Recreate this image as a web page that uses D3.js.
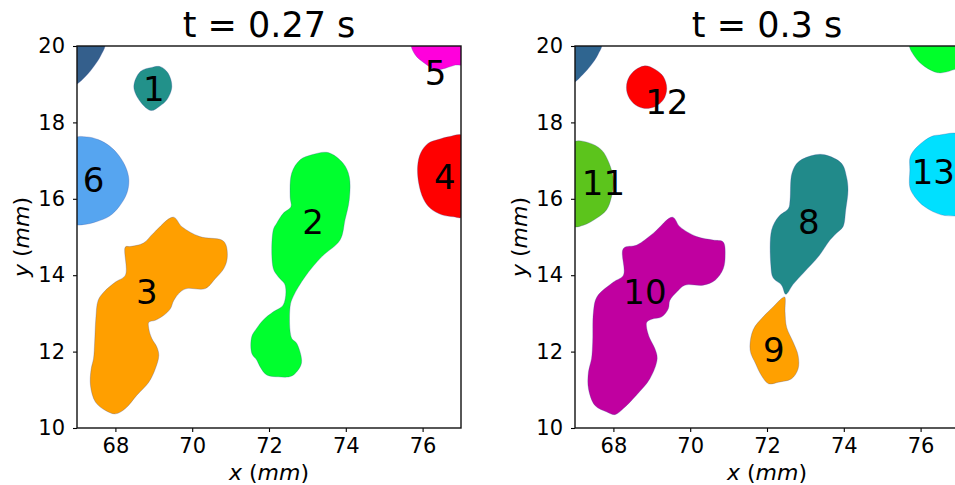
<!DOCTYPE html>
<html>
<head>
<meta charset="utf-8">
<script src="https://cdn.jsdelivr.net/npm/d3@7"></script>
<style>
  body { margin: 0; background: #fff; }
  text { font-family: "DejaVu Sans", sans-serif; fill: #000; }
</style>
</head>
<body>
<svg id="chart" width="955" height="485"></svg>
<script>
var xTicks = [68, 70, 72, 74, 76];
var yTicks = [10, 12, 14, 16, 18, 20];
var titles = ["t = 0.27 s", "t = 0.3 s"];

// region outlines, in mm
var cornerL = [[66.95,20.05],[67.72,20.05],[67.62,19.75],[67.45,19.48],[67.22,19.2],[66.95,19.0]];
var blob1 = [[68.95,19.44],[69.17,19.46],[69.37,19.29],[69.47,18.93],[69.34,18.59],[69.16,18.43],[68.93,18.31],[68.65,18.54],[68.48,18.93],[68.65,19.33]];
var blob2 = [[73.11,17.15],[73.54,17.21],[73.93,16.93],[74.09,16.58],[74.09,15.97],[73.98,15.45],[73.85,14.92],[73.37,14.48],[72.94,13.96],[72.63,13.44],[72.55,13.18],[72.59,12.35],[72.72,12.22],[72.85,11.78],[72.81,11.6],[72.59,11.36],[72.24,11.34],[71.94,11.39],[71.77,11.6],[71.68,11.78],[71.55,11.96],[71.55,12.39],[71.68,12.61],[71.85,12.83],[72.11,13.04],[72.37,13.22],[72.42,13.74],[72.24,13.96],[72.11,14.18],[72.11,15.18],[72.2,15.36],[72.37,15.62],[72.57,15.79],[72.55,16.05],[72.59,16.67],[72.81,17.02]];
var blob3 = [[69.51,15.52],[69.73,15.27],[70.2,15.01],[70.77,14.92],[70.88,14.79],[70.91,14.43],[70.82,14.17],[70.6,13.91],[70.34,13.65],[69.86,13.65],[69.69,13.56],[69.52,13.34],[69.43,13.12],[69.26,12.95],[69.04,12.82],[68.87,12.77],[68.87,12.6],[68.95,12.34],[69.08,12.12],[69.13,11.9],[69.04,11.55],[68.87,11.2],[68.56,10.86],[68.26,10.51],[68.0,10.37],[67.74,10.46],[67.48,10.68],[67.35,11.12],[67.37,11.55],[67.43,11.81],[67.46,12.25],[67.49,12.86],[67.55,13.34],[67.7,13.56],[68.0,13.82],[68.26,14.0],[68.26,14.74],[68.38,14.75],[68.73,14.84],[68.99,15.1]];
var blob4 = [[77.05,17.65],[76.7,17.63],[76.4,17.55],[76.14,17.45],[75.95,17.2],[75.87,16.85],[75.9,16.4],[76.02,16.0],[76.2,15.75],[76.5,15.58],[76.8,15.53],[77.05,15.53]];
var blob5 = [[75.72,20.05],[75.8,19.78],[76.05,19.55],[76.35,19.38],[76.6,19.42],[76.85,19.5],[77.05,19.52],[77.05,20.05]];
var blob6 = [[66.95,17.58],[67.25,17.62],[67.55,17.55],[67.85,17.38],[68.1,17.12],[68.28,16.8],[68.35,16.5],[68.3,16.15],[68.1,15.8],[67.85,15.55],[67.5,15.4],[67.2,15.33],[66.95,15.35]];

var cornerR = [[66.95,20.05],[67.69,20.05],[67.6,19.78],[67.42,19.5],[67.2,19.25],[66.95,19.05]];
var greenTR = [[75.72,20.05],[75.85,19.72],[76.11,19.46],[76.45,19.3],[76.71,19.33],[76.9,19.39],[77.05,19.4],[77.05,20.05]];
var blob8 = [[73.25,17.15],[73.51,17.15],[73.94,16.93],[74.07,16.58],[74.11,16.23],[74.05,15.71],[73.98,15.27],[73.81,15.1],[73.64,14.92],[73.35,14.5],[72.96,14.07],[72.68,13.76],[72.49,13.5],[72.38,13.74],[72.16,13.93],[72.1,14.26],[72.12,15.18],[72.3,15.53],[72.56,15.75],[72.6,15.97],[72.65,16.67],[72.82,16.97]];
var blob9 = [[72.46,13.43],[72.47,13.04],[72.51,12.64],[72.68,12.25],[72.81,11.9],[72.81,11.55],[72.64,11.29],[72.3,11.2],[72.04,11.16],[71.84,11.4],[71.71,11.67],[71.56,12.04],[71.64,12.57],[71.9,12.91],[72.17,13.18],[72.38,13.39]];
var blob10 = [[69.54,15.52],[69.73,15.27],[70.17,15.01],[70.6,14.92],[70.86,14.87],[70.91,14.52],[70.86,14.17],[70.65,13.87],[70.34,13.74],[69.86,13.74],[69.65,13.56],[69.47,13.34],[69.43,13.12],[69.26,12.91],[69.0,12.85],[68.87,12.77],[68.87,12.6],[68.95,12.34],[69.08,12.08],[69.14,11.81],[68.95,11.29],[68.6,10.86],[68.26,10.51],[68.04,10.35],[67.83,10.42],[67.52,10.59],[67.35,11.03],[67.35,11.47],[67.43,11.81],[67.46,12.25],[67.48,13.04],[67.57,13.43],[68.0,13.82],[68.26,14.0],[68.26,14.7],[68.61,14.79],[69.04,15.1]];
var blob11 = [[66.95,17.47],[67.35,17.47],[67.69,17.28],[67.89,16.93],[68.0,16.49],[67.95,16.05],[67.82,15.71],[67.56,15.49],[67.22,15.31],[66.95,15.29]];
var blob12 = [[68.82,19.48],[69.08,19.39],[69.3,19.2],[69.39,18.89],[69.3,18.59],[69.08,18.41],[68.78,18.37],[68.52,18.5],[68.36,18.76],[68.36,19.07],[68.52,19.33]];
var blob13 = [[77.05,17.66],[76.49,17.67],[76.28,17.63],[75.91,17.36],[75.73,17.1],[75.72,16.75],[75.72,16.3],[75.85,16.05],[76.11,15.79],[76.54,15.58],[76.9,15.55],[77.05,15.55]];

// clusters per panel: id, outline, label position (mm)
var leftClusters = [
  {id: "a", pts: cornerL},
  {id: "1", pts: blob1, at: [69.0, 18.89]},
  {id: "2", pts: blob2, at: [73.15, 15.4]},
  {id: "3", pts: blob3, at: [68.82, 13.56]},
  {id: "4", pts: blob4, at: [76.58, 16.58]},
  {id: "5", pts: blob5, at: [76.34, 19.29]},
  {id: "6", pts: blob6, at: [67.43, 16.49]}
];
var rightClusters = [
  {id: "b", pts: cornerR},
  {id: "c", pts: greenTR},
  {id: "8", pts: blob8, at: [73.09, 15.4]},
  {id: "9", pts: blob9, at: [72.18, 12.04]},
  {id: "10", pts: blob10, at: [68.82, 13.56]},
  {id: "11", pts: blob11, at: [67.74, 16.41]},
  {id: "12", pts: blob12, at: [69.39, 18.54]},
  {id: "13", pts: blob13, at: [76.33, 16.71]}
];

var clusterColor = {
  a: "#345f8c", b: "#2f6590", c: "#00ff2a",
  "1": "#22918a", "2": "#00ff2e", "3": "#ff9f00", "4": "#ff0000", "5": "#ff00dc", "6": "#56a5f0",
  "8": "#218a8a", "9": "#ffa000", "10": "#c000a0", "11": "#5cc41c", "12": "#ff0000", "13": "#00e0ff"
};

var svg = d3.select("#chart");
var pw = 384, ph = 382, marginTop = 46;
var panelLeft = [77, 575];
var panels = [leftClusters, rightClusters];

var x = d3.scaleLinear().domain([67, 77]).range([0, pw]);
var y = d3.scaleLinear().domain([10, 20]).range([ph, 0]);

var line = d3.line()
    .x(function(d){ return x(d[0]); })
    .y(function(d){ return y(d[1]); })
    .curve(d3.curveCatmullRomClosed.alpha(0.5));

panels.forEach(function(clusters, i){
  var g = svg.append("g").attr("transform", "translate(" + panelLeft[i] + "," + marginTop + ")");

  g.append("clipPath").attr("id", "clip" + i)
    .append("rect").attr("width", pw).attr("height", ph);

  var plot = g.append("g").attr("clip-path", "url(#clip" + i + ")");

  plot.selectAll("path.blob").data(clusters).enter().append("path")
    .attr("class", "blob")
    .attr("d", function(d){ return line(d.pts); })
    .attr("fill", function(d){ return clusterColor[d.id]; })
    .attr("stroke", "#3b4b9a")
    .attr("stroke-opacity", 0.35)
    .attr("stroke-width", 0.8);

  g.selectAll("text.lab").data(clusters.filter(function(d){ return d.at; })).enter().append("text")
    .attr("class", "lab")
    .attr("x", function(d){ return x(d.at[0]); })
    .attr("y", function(d){ return y(d.at[1]); })
    .attr("dy", "0.36em")
    .attr("text-anchor", "middle")
    .style("font-size", "34px")
    .text(function(d){ return d.id; });

  var xAxis = d3.axisBottom(x).tickValues(xTicks).tickSize(4).tickPadding(6);
  var yAxis = d3.axisLeft(y).tickValues(yTicks).tickSize(4).tickPadding(8);

  var gx = g.append("g").attr("transform", "translate(0," + ph + ")").call(xAxis);
  var gy = g.append("g").call(yAxis);
  [gx, gy].forEach(function(a){
    a.select(".domain").remove();
    a.selectAll("line").attr("stroke", "#000").attr("stroke-width", 1.1);
    a.selectAll("text").style("font-size", "21px").style("font-family", "DejaVu Sans").attr("fill", "#000");
  });

  g.append("rect")
    .attr("width", pw).attr("height", ph)
    .attr("fill", "none").attr("stroke", "#111").attr("stroke-width", 1.4);

  g.append("text")
    .attr("x", pw / 2).attr("y", -9)
    .attr("text-anchor", "middle")
    .style("font-size", "35px")
    .text(titles[i]);

  var xl = g.append("text")
    .attr("x", pw / 2).attr("y", ph + 52)
    .attr("text-anchor", "middle")
    .style("font-size", "22px");
  xl.append("tspan").style("font-style", "italic").text("x");
  xl.append("tspan").text(" (");
  xl.append("tspan").style("font-style", "italic").text("mm");
  xl.append("tspan").text(")");

  var yl = g.append("text")
    .attr("transform", "translate(-48," + (ph / 2) + ") rotate(-90)")
    .attr("text-anchor", "middle")
    .style("font-size", "22px");
  yl.append("tspan").style("font-style", "italic").text("y");
  yl.append("tspan").text(" (");
  yl.append("tspan").style("font-style", "italic").text("mm");
  yl.append("tspan").text(")");
});
</script>
</body>
</html>
